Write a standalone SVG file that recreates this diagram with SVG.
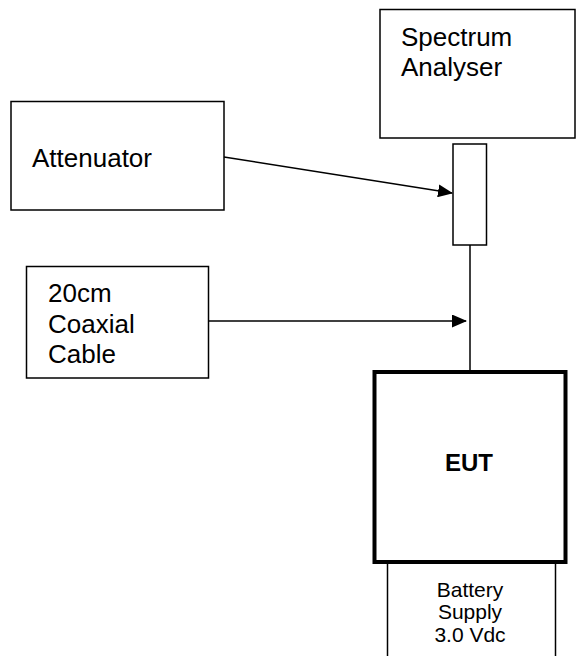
<svg xmlns="http://www.w3.org/2000/svg" width="576" height="656" viewBox="0 0 576 656">
<style>
.box{fill:#fff;stroke:#000;stroke-width:1.5}
.t{font-family:"Liberation Sans",Arial,sans-serif;font-size:26px;fill:#000}
.s{font-family:"Liberation Sans",Arial,sans-serif;font-size:21px;fill:#000;text-anchor:middle}
.ln{stroke:#000;stroke-width:1.5;fill:none}
</style>
<defs>
<marker id="ah" markerWidth="15" markerHeight="13" refX="14" refY="6.5" orient="auto" markerUnits="userSpaceOnUse">
<path d="M0,0 L15,6.5 L0,13 Z" fill="#000"/>
</marker>
</defs>
<rect width="576" height="656" fill="#fff"/>
<g id="spectrum">
<rect class="box" x="380" y="9.5" width="195" height="128.5"/>
<text class="t" x="401" y="45.5">Spectrum</text>
<text class="t" x="401" y="76">Analyser</text>
</g>
<g id="connector-block">
<rect class="box" x="453" y="144" width="33.5" height="101"/>
</g>
<g id="attenuator">
<rect class="box" x="11" y="101.5" width="213" height="108.5"/>
<text class="t" x="32" y="167">Attenuator</text>
</g>
<g id="coax">
<rect class="box" x="26.5" y="266.5" width="182" height="111.5"/>
<text class="t" x="48" y="302">20cm</text>
<text class="t" x="48" y="333">Coaxial</text>
<text class="t" x="48" y="363">Cable</text>
</g>
<g id="eut">
<rect x="374.5" y="372" width="191" height="190" fill="#fff" stroke="#000" stroke-width="4"/>
<text x="469" y="470.5" font-family="'Liberation Sans',Arial,sans-serif" font-size="24" font-weight="bold" text-anchor="middle">EUT</text>
</g>
<g id="battery">
<line class="ln" x1="387.5" y1="564" x2="387.5" y2="656"/>
<line class="ln" x1="555.5" y1="564" x2="555.5" y2="656"/>
<text class="s" x="470" y="596.5">Battery</text>
<text class="s" x="470" y="619">Supply</text>
<text class="s" x="470" y="641.5">3.0 Vdc</text>
</g>
<g id="connectors">
<line class="ln" x1="224" y1="157" x2="452" y2="193" marker-end="url(#ah)"/>
<line class="ln" x1="208.5" y1="321" x2="466" y2="321" marker-end="url(#ah)"/>
<line class="ln" x1="470" y1="245" x2="470" y2="370"/>
</g>
</svg>
